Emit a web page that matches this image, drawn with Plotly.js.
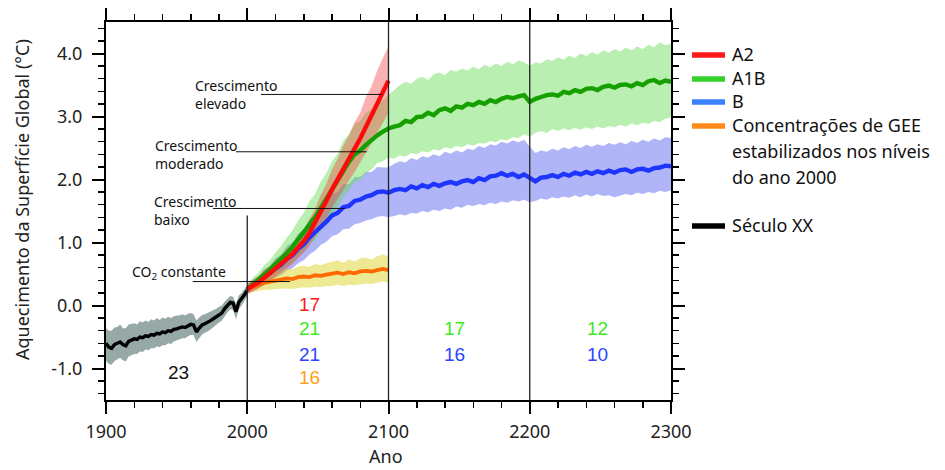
<!DOCTYPE html>
<html>
<head>
<meta charset="utf-8">
<script src="https://cdn.plot.ly/plotly-3.0.1.min.js"></script>
<style>html,body{margin:0;padding:0;background:#fff;}#chart{width:945px;height:470px;}</style>
</head>
<body>
<div id="chart"></div>
<script>
// ---------- DATA ----------
// 20th century (observed / simulated), every 2 years
const years20 = [1900,1902,1904,1906,1908,1910,1912,1914,1916,1918,1920,1922,1924,1926,1928,1930,1932,1934,1936,1938,1940,1942,1944,1946,1948,1950,1952,1954,1956,1958,1960,1962,1964,1966,1968,1970,1972,1974,1976,1978,1980,1982,1984,1986,1988,1990,1992,1994,1996,1998,2000];
const century20 = [-0.60,-0.66,-0.68,-0.62,-0.60,-0.58,-0.62,-0.64,-0.57,-0.55,-0.53,-0.54,-0.50,-0.51,-0.48,-0.49,-0.46,-0.47,-0.44,-0.45,-0.42,-0.43,-0.40,-0.41,-0.38,-0.37,-0.36,-0.34,-0.35,-0.32,-0.30,-0.31,-0.42,-0.36,-0.31,-0.29,-0.27,-0.24,-0.21,-0.18,-0.14,-0.12,-0.05,0.00,0.05,0.04,-0.10,0.05,0.10,0.17,0.24];
const century20Upper = [-0.36,-0.40,-0.40,-0.35,-0.34,-0.30,-0.36,-0.36,-0.30,-0.29,-0.28,-0.30,-0.25,-0.27,-0.24,-0.26,-0.22,-0.24,-0.20,-0.23,-0.19,-0.21,-0.18,-0.20,-0.17,-0.16,-0.16,-0.14,-0.16,-0.13,-0.12,-0.14,-0.24,-0.19,-0.15,-0.14,-0.12,-0.10,-0.08,-0.05,-0.02,0.00,0.06,0.10,0.15,0.14,0.02,0.16,0.20,0.26,0.32];
const century20Lower = [-0.88,-0.93,-0.94,-0.88,-0.85,-0.83,-0.87,-0.89,-0.81,-0.79,-0.77,-0.77,-0.73,-0.74,-0.70,-0.71,-0.68,-0.68,-0.65,-0.66,-0.63,-0.63,-0.60,-0.61,-0.57,-0.56,-0.54,-0.52,-0.52,-0.49,-0.47,-0.47,-0.58,-0.52,-0.46,-0.44,-0.41,-0.38,-0.34,-0.31,-0.27,-0.24,-0.17,-0.11,-0.06,-0.07,-0.22,-0.06,0.00,0.07,0.15];

// Scenario years (2000-2300, every 4 years); A2 and constant-CO2 use only 2000-2100
const yearsScen = [2000,2004,2008,2012,2016,2020,2024,2028,2032,2036,2040,2044,2048,2052,2056,2060,2064,2068,2072,2076,2080,2084,2088,2092,2096,2100,
  2104,2108,2112,2116,2120,2124,2128,2132,2136,2140,2144,2148,2152,2156,2160,2164,2168,2172,2176,2180,2184,2188,2192,2196,2200,
  2204,2208,2212,2216,2220,2224,2228,2232,2236,2240,2244,2248,2252,2256,2260,2264,2268,2272,2276,2280,2284,2288,2292,2296,2300];

const a2 = [0.26,0.31,0.37,0.44,0.51,0.58,0.66,0.74,0.82,0.92,1.02,1.15,1.31,1.48,1.66,1.84,2.01,2.17,2.33,2.49,2.65,2.84,3.02,3.21,3.40,3.57];
const a2Upper = [0.35,0.41,0.46,0.56,0.62,0.72,0.79,0.90,0.97,1.11,1.20,1.37,1.53,1.75,1.93,2.16,2.33,2.54,2.70,2.91,3.06,3.31,3.48,3.73,3.92,4.12];
const a2Lower = [0.18,0.22,0.27,0.33,0.39,0.45,0.52,0.59,0.66,0.75,0.84,0.95,1.09,1.24,1.39,1.55,1.70,1.84,1.98,2.12,2.26,2.42,2.58,2.74,2.91,3.06];

const a1b = [0.26,0.33,0.41,0.49,0.57,0.65,0.74,0.83,0.93,1.04,1.15,1.28,1.40,1.55,1.69,1.84,2.00,2.15,2.28,2.40,2.46,2.55,2.63,2.70,2.76,2.81,
  2.84,2.86,2.93,2.91,2.99,3.00,3.06,3.02,3.10,3.13,3.09,3.16,3.14,3.20,3.18,3.23,3.20,3.26,3.23,3.28,3.31,3.29,3.32,3.34,3.23,
  3.28,3.31,3.34,3.35,3.33,3.39,3.37,3.42,3.39,3.44,3.45,3.42,3.47,3.49,3.46,3.50,3.51,3.48,3.53,3.50,3.56,3.58,3.53,3.57,3.55];
const a1bUpper = [0.34,0.44,0.52,0.64,0.72,0.84,0.94,1.08,1.19,1.35,1.47,1.65,1.77,1.96,2.10,2.29,2.41,2.62,2.72,2.89,2.93,3.06,3.11,3.22,3.26,3.34,
  3.42,3.50,3.55,3.52,3.60,3.63,3.58,3.67,3.70,3.66,3.74,3.71,3.76,3.73,3.79,3.75,3.82,3.78,3.84,3.80,3.87,3.83,3.89,3.86,3.80,
  3.86,3.84,3.91,3.88,3.94,3.90,3.97,3.93,4.00,3.96,4.02,3.98,4.05,4.01,4.07,4.03,4.09,4.05,4.11,4.07,4.14,4.10,4.18,4.13,4.16];
const a1bLower = [0.19,0.25,0.29,0.37,0.41,0.49,0.54,0.62,0.67,0.78,0.84,0.96,1.04,1.18,1.29,1.44,1.56,1.73,1.83,1.96,1.99,2.10,2.16,2.26,2.29,2.35,
  2.33,2.38,2.36,2.42,2.40,2.45,2.43,2.48,2.46,2.51,2.49,2.53,2.51,2.56,2.54,2.58,2.57,2.61,2.59,2.64,2.62,2.67,2.66,2.72,2.68,
  2.74,2.77,2.74,2.80,2.77,2.81,2.78,2.82,2.79,2.83,2.80,2.84,2.81,2.85,2.83,2.87,2.84,2.89,2.86,2.90,2.88,2.93,2.91,2.97,2.98];

const b1 = [0.26,0.32,0.37,0.45,0.51,0.59,0.65,0.74,0.80,0.90,0.97,1.08,1.16,1.26,1.33,1.43,1.47,1.56,1.58,1.66,1.68,1.73,1.75,1.80,1.81,1.79,
  1.83,1.85,1.83,1.89,1.86,1.91,1.88,1.93,1.90,1.94,1.96,1.93,1.97,1.99,1.96,2.02,1.99,2.05,2.06,2.10,2.06,2.09,2.04,2.08,2.03,
  1.97,2.03,2.04,2.07,2.04,2.09,2.06,2.11,2.08,2.12,2.09,2.13,2.10,2.14,2.11,2.15,2.16,2.12,2.16,2.17,2.14,2.18,2.19,2.22,2.21];
const b1Upper = [0.33,0.41,0.46,0.58,0.63,0.75,0.81,0.94,1.00,1.14,1.21,1.36,1.44,1.57,1.64,1.77,1.80,1.92,1.93,2.04,2.04,2.12,2.12,2.20,2.19,2.19,
  2.25,2.29,2.27,2.34,2.31,2.37,2.35,2.40,2.37,2.44,2.41,2.46,2.43,2.49,2.47,2.53,2.50,2.56,2.54,2.60,2.57,2.62,2.59,2.63,2.52,
  2.42,2.46,2.44,2.49,2.46,2.51,2.48,2.53,2.50,2.55,2.52,2.56,2.53,2.58,2.55,2.59,2.56,2.61,2.58,2.63,2.60,2.65,2.62,2.67,2.66];
const b1Lower = [0.19,0.24,0.27,0.33,0.38,0.44,0.48,0.55,0.59,0.67,0.72,0.81,0.87,0.96,1.01,1.10,1.13,1.21,1.22,1.29,1.31,1.35,1.37,1.41,1.42,1.40,
  1.42,1.45,1.43,1.47,1.46,1.50,1.48,1.52,1.50,1.54,1.52,1.57,1.55,1.60,1.58,1.61,1.59,1.63,1.61,1.65,1.63,1.67,1.65,1.68,1.64,
  1.66,1.70,1.68,1.72,1.70,1.73,1.71,1.75,1.72,1.76,1.73,1.77,1.74,1.75,1.72,1.74,1.77,1.75,1.79,1.77,1.80,1.78,1.82,1.80,1.83];

const constCO2 = [0.26,0.30,0.33,0.36,0.38,0.40,0.41,0.43,0.42,0.45,0.46,0.45,0.48,0.47,0.49,0.50,0.52,0.50,0.53,0.51,0.54,0.55,0.54,0.56,0.58,0.56];
const constCO2Upper = [0.32,0.38,0.43,0.47,0.51,0.54,0.55,0.59,0.57,0.62,0.63,0.61,0.66,0.64,0.67,0.69,0.72,0.68,0.73,0.70,0.75,0.76,0.73,0.78,0.81,0.78];
const constCO2Lower = [0.20,0.22,0.23,0.25,0.25,0.26,0.27,0.27,0.26,0.28,0.29,0.28,0.30,0.29,0.31,0.31,0.33,0.31,0.33,0.32,0.34,0.35,0.34,0.36,0.38,0.36];

// Model counts written on the chart
const countTexts  = ['23','17','21','21','16','17','16','12','10'];
const countYears  = [1951,2044.4,2044.4,2044.4,2044.4,2147,2147,2248.3,2248.3];
const countLevels = [-1.07,0.02,-0.37,-0.77,-1.14,-0.37,-0.77,-0.37,-0.77];
const countSeries = ['xx','a2','a1b','b1','co2','a1b','b1','a1b','b1'];

// Scenario labels (text, left year, level, leader line start/end year and level)
const scenLabels = ['Crescimento<br>elevado','Crescimento<br>moderado','Crescimento<br>baixo','CO<sub>2</sub> constante'];
const scenLabelX = [1961.6,1933.3,1932.6,1917];
const scenLabelY = [3.35,2.39,1.51,0.53];
const leaderStart = [2009.7,1992,1975.8,1961.4];
const leaderEnd   = [2095.2,2084.6,2069.2,2030.3];
const leaderLevel = [3.35,2.44,1.54,0.38];

const legendLabels = ['A2','A1B','B','Concentrações de GEE','estabilizados nos níveis','do ano 2000','Século XX'];
const dividerYears = [2100,2200];

const xTickVals = [1900,2000,2100,2200,2300];
const yTickVals = [-1,0,1,2,3,4];
const yTickText = ['-1.0','0.0','1.0','2.0','3.0','4.0'];

// ---------- STYLE ----------
const C = {
  xx:  {line:'#000000', band:'rgba(105,132,128,0.70)', text:'#111111', legend:'#000000'},
  a2:  {line:'#ff0a0a', band:'rgba(240,60,60,0.40)',  text:'#ff1a1a', legend:'#ff1a1a'},
  a1b: {line:'#16a000', band:'rgba(100,220,80,0.45)', text:'#3cea22', legend:'#33d12a'},
  b1:  {line:'#1e34ff', band:'rgba(80,90,240,0.45)',  text:'#2a44ff', legend:'#3a80ff'},
  co2: {line:'#ff6a00', band:'rgba(222,212,40,0.50)', text:'#ffa020', legend:'#ff8a1a'}
};

function band(x, up, lo, color) {
  return {x: x.concat(x.slice().reverse()), y: up.concat(lo.slice().reverse()),
    type:'scatter', mode:'lines', fill:'toself', fillcolor:color, line:{width:0, color:color},
    hoverinfo:'skip', showlegend:false};
}
function line(x, y, color, w) {
  return {x:x, y:y, type:'scatter', mode:'lines', line:{color:color, width:w}, hoverinfo:'skip', showlegend:false};
}
const y21 = yearsScen.slice(0, a2.length);

const traces = [
  band(years20, century20Upper, century20Lower, C.xx.band),
  band(yearsScen, b1Upper, b1Lower, C.b1.band),
  band(yearsScen, a1bUpper, a1bLower, C.a1b.band),
  band(y21, constCO2Upper, constCO2Lower, C.co2.band),
  band(y21, a2Upper, a2Lower, C.a2.band),
  line(years20, century20, C.xx.line, 3.4),
  line(y21, constCO2, C.co2.line, 3.8),
  line(yearsScen, b1, C.b1.line, 4.4),
  line(yearsScen, a1b, C.a1b.line, 4.4),
  line(y21, a2, C.a2.line, 4.4),
  // empty trace so the mirrored (top/right) tick axes are drawn
  {x:[null], y:[null], xaxis:'x2', yaxis:'y2', type:'scatter', mode:'lines', hoverinfo:'skip', showlegend:false}
];

const shapes = [];
const annotations = [];
shapes.push({type:'line', xref:'x', yref:'y', x0:2000, x1:2000, y0:-1.5, y1:1.43, line:{color:'#222', width:1.3}});
dividerYears.forEach(yr => shapes.push({type:'line', xref:'x', yref:'paper', x0:yr, x1:yr, y0:0, y1:1, line:{color:'#222', width:1.3}}));
scenLabels.forEach((t, i) => {
  shapes.push({type:'line', xref:'x', yref:'y', x0:leaderStart[i], x1:leaderEnd[i], y0:leaderLevel[i], y1:leaderLevel[i], line:{color:'#111', width:1}});
  annotations.push({xref:'x', yref:'y', x:scenLabelX[i], y:scenLabelY[i], text:t, showarrow:false, xanchor:'left', yanchor:'middle', align:'left',
    font:{family:'Noto Sans, sans-serif', size:14, color:'#111'}});
});
countTexts.forEach((t, i) => annotations.push({xref:'x', yref:'y', x:countYears[i], y:countLevels[i], text:t, showarrow:false,
  xanchor:'center', yanchor:'middle', font:{family:'Liberation Sans, Arial, sans-serif', size:19, color:C[countSeries[i]].text}}));

// legend (drawn manually)
const px2x = px => (px - 106) / 565;
const px2y = py => (400 - py) / 378;
const legendKeys = ['a2','a1b','b1','co2', null, null, 'xx'];
const legendRows = [54, 78, 101, 125, 151, 177, 225];
legendLabels.forEach((t, i) => {
  if (legendKeys[i]) shapes.push({type:'line', xref:'paper', yref:'paper', x0:px2x(692), x1:px2x(725), y0:px2y(legendRows[i]+1), y1:px2y(legendRows[i]+1),
    line:{color:C[legendKeys[i]].legend, width:5.5}});
  annotations.push({xref:'paper', yref:'paper', x:px2x(730), y:px2y(legendRows[i]), text:t, showarrow:false, xanchor:'left', yanchor:'middle',
    font:{family:'Noto Sans, sans-serif', size:18, color:'#111'}});
});
annotations.push({xref:'paper', yref:'paper', x:px2x(22), y:px2y(200), text:'Aquecimento da Superfície Global (°C)', textangle:-90, showarrow:false,
  xanchor:'center', yanchor:'middle', font:{family:'Noto Sans, sans-serif', size:18, color:'#222'}});
annotations.push({xref:'paper', yref:'paper', x:px2x(386), y:px2y(456), text:'Ano', showarrow:false,
  xanchor:'center', yanchor:'middle', font:{family:'Noto Sans, sans-serif', size:18, color:'#222'}});

const axisCommon = {showline:true, linewidth:2, linecolor:'#000', ticks:'outside', ticklen:12, tickwidth:2, tickcolor:'#000',
  showgrid:false, zeroline:false, tickfont:{family:'Noto Sans, sans-serif', size:18, color:'#222'}};
const xMinor = {tick0:1900, dtick:20, ticks:'outside', ticklen:6, tickwidth:1.5, tickcolor:'#000', showgrid:false};
const yMinor = {tick0:0, dtick:0.2, ticks:'outside', ticklen:6, tickwidth:1.5, tickcolor:'#000', showgrid:false};

const layout = {
  width:945, height:470, margin:{l:106, r:274, t:22, b:70},
  paper_bgcolor:'#fff', plot_bgcolor:'#fff', showlegend:false,
  font:{family:'Noto Sans, sans-serif', size:18, color:'#222'},
  xaxis: Object.assign({}, axisCommon, {range:[1900,2300], tickmode:'array', tickvals:xTickVals, ticklabelstandoff:2, minor:xMinor}),
  yaxis: Object.assign({}, axisCommon, {range:[-1.5,4.5], tickmode:'array', tickvals:yTickVals, ticktext:yTickText, ticklabelstandoff:6, minor:yMinor}),
  xaxis2: Object.assign({}, axisCommon, {overlaying:'x', side:'top', anchor:'y2', range:[1900,2300], tickmode:'array', tickvals:xTickVals, showticklabels:false, minor:xMinor}),
  yaxis2: Object.assign({}, axisCommon, {overlaying:'y', side:'right', anchor:'x2', range:[-1.5,4.5], tickmode:'array', tickvals:yTickVals, showticklabels:false, minor:yMinor}),
  shapes: shapes,
  annotations: annotations
};

Plotly.newPlot('chart', traces, layout, {staticPlot:true, displayModeBar:false});
</script>
</body>
</html>
